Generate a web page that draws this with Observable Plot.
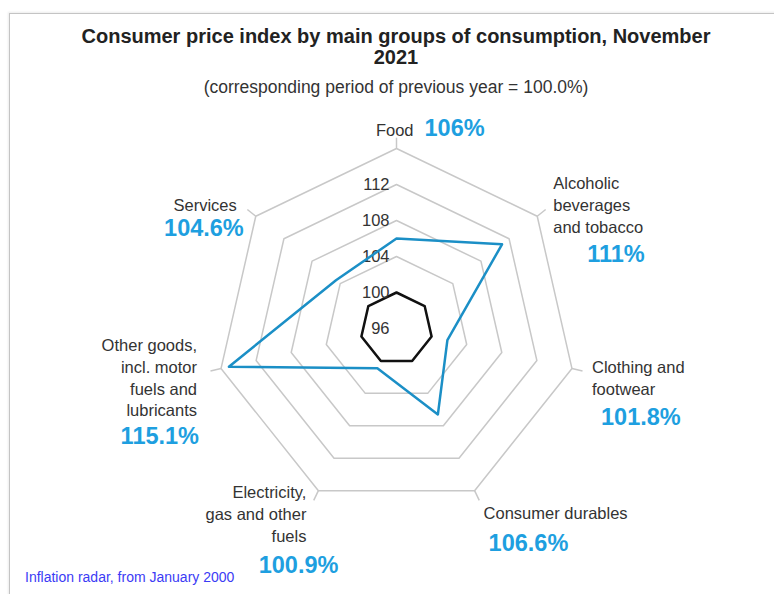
<!DOCTYPE html>
<html>
<head>
<meta charset="utf-8">
<script src="https://cdn.jsdelivr.net/npm/d3@7"></script>
<script src="https://cdn.jsdelivr.net/npm/@observablehq/plot@0.6"></script>
<style>
  html, body { margin: 0; padding: 0; background: #fff; width: 774px; height: 594px; overflow: hidden; }
  body { font-family: "Liberation Sans", Arial, sans-serif; position: relative; }
  #frame { position: absolute; left: 9px; top: 13px; width: 900px; height: 700px;
           border-top: 1px solid #c4c4c4; border-left: 1px solid #c4c4c4;
           box-shadow: -1px -1px 2px rgba(0,0,0,0.08); }
  #title { position: absolute; left: 26px; width: 740px; top: 26px; text-align: center;
           font-weight: bold; font-size: 20px; line-height: 21px; color: #222; }
  #subtitle { position: absolute; left: 26px; width: 740px; top: 77px; text-align: center;
              font-size: 17.5px; color: #333; }
  #chart { position: absolute; left: 0; top: 100px; }
  #caption { position: absolute; left: 25px; top: 569px; font-size: 14px; color: #3b3bf5; }
</style>
</head>
<body>
<div id="frame"></div>
<div id="title">Consumer price index by main groups of consumption, November<br>2021</div>
<div id="subtitle">(corresponding period of previous year = 100.0%)</div>
<div id="chart"></div>
<div id="caption">Inflation radar, from January 2000</div>
<script>
// ---- data ----
const categories = [
  "Food",
  "Alcoholic\nbeverages\nand tobacco",
  "Clothing and\nfootwear",
  "Consumer durables",
  "Electricity,\ngas and other\nfuels",
  "Other goods,\nincl. motor\nfuels and\nlubricants",
  "Services"
];
const values = [106, 111, 101.8, 106.6, 100.9, 115.1, 104.6];
const valueLabels = ["106%", "111%", "101.8%", "106.6%", "100.9%", "115.1%", "104.6%"];
const gridLevels = [100, 104, 108, 112, 116];
const tickLabels = [96, 100, 104, 108, 112];
const referenceLevel = 100;
const scaleMin = 96;
const scaleMax = 116;

// ---- layout (label offsets in px from outer vertex) ----
const labelLayout = [
  {dx: 17,  dy: -20, anchor: "end"},
  {dx: 16,  dy: -12, anchor: "start"},
  {dx: 20,  dy: 8,   anchor: "start"},
  {dx: 9,   dy: 21,  anchor: "start"},
  {dx: -12, dy: 22,  anchor: "end"},
  {dx: -24, dy: 8,   anchor: "end"},
  {dx: -19, dy: -12, anchor: "end"}
];
const valueLayout = [
  {dx: 28,  dy: -20, anchor: "start"},
  {dx: 50,  dy: 38,  anchor: "start"},
  {dx: 29,  dy: 49,  anchor: "start"},
  {dx: 14,  dy: 53,  anchor: "start"},
  {dx: 20,  dy: 75,  anchor: "end"},
  {dx: -22, dy: 68,  anchor: "end"},
  {dx: -12, dy: 12,  anchor: "end"}
];

const n = categories.length;
const angle = i => i * 2 * Math.PI / n;
const px = (v, i) => (v - scaleMin) * Math.sin(angle(i));
const py = (v, i) => (v - scaleMin) * Math.cos(angle(i));

const ringPts = gridLevels.flatMap(level => d3.range(n).map(i => ({level, i, x: px(level, i), y: py(level, i)})));
const refPts = d3.range(n).map(i => ({x: px(referenceLevel, i), y: py(referenceLevel, i)}));
const dataPts = values.map((v, i) => ({x: px(v, i), y: py(v, i)}));
const tickMarks = d3.range(n).map(i => ({x1: px(scaleMax, i), y1: py(scaleMax, i), x2: px(scaleMax + 1.2, i), y2: py(scaleMax + 1.2, i)}));

const R = scaleMax - scaleMin;
const cx = 396, cy = 228, rPx = 180;

const labelMarks = [];
categories.forEach((c, i) => {
  const L = labelLayout[i], V = valueLayout[i];
  labelMarks.push(Plot.text([i], {
    x: d => px(scaleMax, d), y: d => py(scaleMax, d), text: d => categories[d],
    dx: L.dx, dy: L.dy, textAnchor: L.anchor, lineHeight: 1.33,
    fontSize: 16.5, fill: "#333"
  }));
  labelMarks.push(Plot.text([i], {
    x: d => px(scaleMax, d), y: d => py(scaleMax, d), text: d => valueLabels[d],
    dx: V.dx, dy: V.dy, textAnchor: V.anchor,
    fontSize: 23.5, fontWeight: "bold", fill: "#1e9fe0"
  }));
});

const chart = Plot.plot({
  width: 774,
  height: 494,
  margin: 0,
  style: {fontFamily: "'Liberation Sans', Arial, sans-serif", background: "transparent"},
  x: {domain: [-R, R], range: [cx - rPx, cx + rPx], axis: null},
  y: {domain: [-R, R], range: [cy + rPx, cy - rPx], axis: null},
  marks: [
    Plot.line(ringPts, {x: "x", y: "y", z: "level", curve: "linear-closed", stroke: "#c8c8c8", strokeWidth: 1.5}),
    Plot.link(tickMarks, {x1: "x1", y1: "y1", x2: "x2", y2: "y2", stroke: "#c8c8c8", strokeWidth: 1.5}),
    Plot.line(refPts, {x: "x", y: "y", curve: "linear-closed", stroke: "#111", strokeWidth: 2.5}),
    Plot.text(tickLabels, {x: () => 0, y: d => d - scaleMin, text: d => String(d), textAnchor: "end", dx: -7, fontSize: 16.5, fill: "#333"}),
    Plot.line(dataPts, {x: "x", y: "y", curve: "linear-closed", stroke: "#1b8fc6", strokeWidth: 2.5}),
    ...labelMarks
  ]
});
document.getElementById("chart").appendChild(chart);
</script>
</body>
</html>
